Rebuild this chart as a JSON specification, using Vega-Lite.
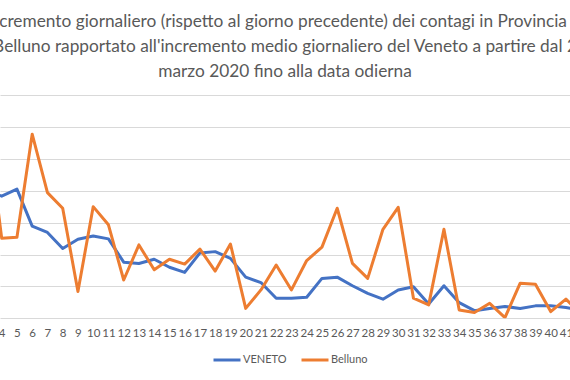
{
  "$schema": "https://vega.github.io/schema/vega-lite/v6.json",
  "autosize": "none",
  "width": 570,
  "height": 223.3,
  "padding": {"left": 0, "top": 95, "right": 0, "bottom": 61.7},
  "background": "white",
  "title": {
    "text": [
      "Incremento giornaliero  (rispetto al giorno precedente) dei contagi in Provincia di",
      "Belluno rapportato all'incremento medio giornaliero del Veneto a partire dal 2",
      "marzo 2020 fino alla data odierna"
    ],
    "font": "Lato",
    "fontSize": 17.3,
    "fontWeight": "normal",
    "color": "#595959",
    "lineHeight": 25,
    "anchor": "middle",
    "offset": 15
  },
  "config": {
    "view": {"stroke": null},
    "axis": {"labelFont": "Lato", "labelColor": "#595959"}
  },
  "data": {
    "values": [
      {"giorno": 3, "serie": "VENETO", "valore": 4.0},
      {"giorno": 4, "serie": "VENETO", "valore": 3.83},
      {"giorno": 5, "serie": "VENETO", "valore": 4.05},
      {"giorno": 6, "serie": "VENETO", "valore": 2.89},
      {"giorno": 7, "serie": "VENETO", "valore": 2.69},
      {"giorno": 8, "serie": "VENETO", "valore": 2.19},
      {"giorno": 9, "serie": "VENETO", "valore": 2.48},
      {"giorno": 10, "serie": "VENETO", "valore": 2.58},
      {"giorno": 11, "serie": "VENETO", "valore": 2.49},
      {"giorno": 12, "serie": "VENETO", "valore": 1.76},
      {"giorno": 13, "serie": "VENETO", "valore": 1.72},
      {"giorno": 14, "serie": "VENETO", "valore": 1.85},
      {"giorno": 15, "serie": "VENETO", "valore": 1.6},
      {"giorno": 16, "serie": "VENETO", "valore": 1.44},
      {"giorno": 17, "serie": "VENETO", "valore": 2.05},
      {"giorno": 18, "serie": "VENETO", "valore": 2.09},
      {"giorno": 19, "serie": "VENETO", "valore": 1.88},
      {"giorno": 20, "serie": "VENETO", "valore": 1.29},
      {"giorno": 21, "serie": "VENETO", "valore": 1.12},
      {"giorno": 22, "serie": "VENETO", "valore": 0.63},
      {"giorno": 23, "serie": "VENETO", "valore": 0.63},
      {"giorno": 24, "serie": "VENETO", "valore": 0.66},
      {"giorno": 25, "serie": "VENETO", "valore": 1.25},
      {"giorno": 26, "serie": "VENETO", "valore": 1.29},
      {"giorno": 27, "serie": "VENETO", "valore": 1.02},
      {"giorno": 28, "serie": "VENETO", "valore": 0.78},
      {"giorno": 29, "serie": "VENETO", "valore": 0.6},
      {"giorno": 30, "serie": "VENETO", "valore": 0.89},
      {"giorno": 31, "serie": "VENETO", "valore": 0.99},
      {"giorno": 32, "serie": "VENETO", "valore": 0.45},
      {"giorno": 33, "serie": "VENETO", "valore": 1.02},
      {"giorno": 34, "serie": "VENETO", "valore": 0.49},
      {"giorno": 35, "serie": "VENETO", "valore": 0.24},
      {"giorno": 36, "serie": "VENETO", "valore": 0.31},
      {"giorno": 37, "serie": "VENETO", "valore": 0.37},
      {"giorno": 38, "serie": "VENETO", "valore": 0.31},
      {"giorno": 39, "serie": "VENETO", "valore": 0.39},
      {"giorno": 40, "serie": "VENETO", "valore": 0.39},
      {"giorno": 41, "serie": "VENETO", "valore": 0.34},
      {"giorno": 42, "serie": "VENETO", "valore": 0.25},
      {"giorno": 3, "serie": "Belluno", "valore": 6.3},
      {"giorno": 4, "serie": "Belluno", "valore": 2.51},
      {"giorno": 5, "serie": "Belluno", "valore": 2.54},
      {"giorno": 6, "serie": "Belluno", "valore": 5.77},
      {"giorno": 7, "serie": "Belluno", "valore": 3.94},
      {"giorno": 8, "serie": "Belluno", "valore": 3.45},
      {"giorno": 9, "serie": "Belluno", "valore": 0.84},
      {"giorno": 10, "serie": "Belluno", "valore": 3.5},
      {"giorno": 11, "serie": "Belluno", "valore": 2.93},
      {"giorno": 12, "serie": "Belluno", "valore": 1.2},
      {"giorno": 13, "serie": "Belluno", "valore": 2.3},
      {"giorno": 14, "serie": "Belluno", "valore": 1.52},
      {"giorno": 15, "serie": "Belluno", "valore": 1.85},
      {"giorno": 16, "serie": "Belluno", "valore": 1.7},
      {"giorno": 17, "serie": "Belluno", "valore": 2.17},
      {"giorno": 18, "serie": "Belluno", "valore": 1.48},
      {"giorno": 19, "serie": "Belluno", "valore": 2.33},
      {"giorno": 20, "serie": "Belluno", "valore": 0.31},
      {"giorno": 21, "serie": "Belluno", "valore": 0.89},
      {"giorno": 22, "serie": "Belluno", "valore": 1.67},
      {"giorno": 23, "serie": "Belluno", "valore": 0.89},
      {"giorno": 24, "serie": "Belluno", "valore": 1.81},
      {"giorno": 25, "serie": "Belluno", "valore": 2.23},
      {"giorno": 26, "serie": "Belluno", "valore": 3.45},
      {"giorno": 27, "serie": "Belluno", "valore": 1.72},
      {"giorno": 28, "serie": "Belluno", "valore": 1.25},
      {"giorno": 29, "serie": "Belluno", "valore": 2.79},
      {"giorno": 30, "serie": "Belluno", "valore": 3.48},
      {"giorno": 31, "serie": "Belluno", "valore": 0.63},
      {"giorno": 32, "serie": "Belluno", "valore": 0.42},
      {"giorno": 33, "serie": "Belluno", "valore": 2.79},
      {"giorno": 34, "serie": "Belluno", "valore": 0.26},
      {"giorno": 35, "serie": "Belluno", "valore": 0.18},
      {"giorno": 36, "serie": "Belluno", "valore": 0.47},
      {"giorno": 37, "serie": "Belluno", "valore": 0.02},
      {"giorno": 38, "serie": "Belluno", "valore": 1.1},
      {"giorno": 39, "serie": "Belluno", "valore": 1.07},
      {"giorno": 40, "serie": "Belluno", "valore": 0.21},
      {"giorno": 41, "serie": "Belluno", "valore": 0.6},
      {"giorno": 42, "serie": "Belluno", "valore": 0.12}
    ]
  },
  "mark": {"type": "line", "strokeWidth": 3, "strokeJoin": "round", "strokeCap": "round", "clip": true},
  "encoding": {
    "x": {
      "field": "giorno",
      "type": "quantitative",
      "scale": {"domain": [3.889, 41.266], "nice": false, "zero": false},
      "axis": {
        "title": null,
        "values": [4,5,6,7,8,9,10,11,12,13,14,15,16,17,18,19,20,21,22,23,24,25,26,27,28,29,30,31,32,33,34,35,36,37,38,39,40,41],
        "format": "d",
        "grid": false,
        "ticks": false,
        "domain": false,
        "labelFontSize": 11.5,
        "labelPadding": 9,
        "labelOverlap": false,
        "labelFlush": false
      }
    },
    "y": {
      "field": "valore",
      "type": "quantitative",
      "scale": {"domain": [0, 7], "nice": false},
      "axis": {
        "title": null,
        "values": [0,1,2,3,4,5,6,7],
        "labels": false,
        "ticks": false,
        "domain": false,
        "grid": true,
        "gridColor": "#d9d9d9",
        "gridWidth": 1
      }
    },
    "color": {
      "field": "serie",
      "type": "nominal",
      "sort": ["VENETO", "Belluno"],
      "scale": {"domain": ["VENETO", "Belluno"], "range": ["#4472C4", "#ED7D31"]},
      "legend": {
        "title": null,
        "orient": "none",
        "direction": "horizontal",
        "legendX": 212,
        "legendY": 250,
        "padding": 0,
        "symbolType": "stroke",
        "symbolSize": 729,
        "symbolStrokeWidth": 3,
        "labelFont": "Lato",
        "labelFontSize": 11,
        "labelColor": "#595959",
        "labelOffset": 1,
        "columnPadding": 8
      }
    }
  }
}
